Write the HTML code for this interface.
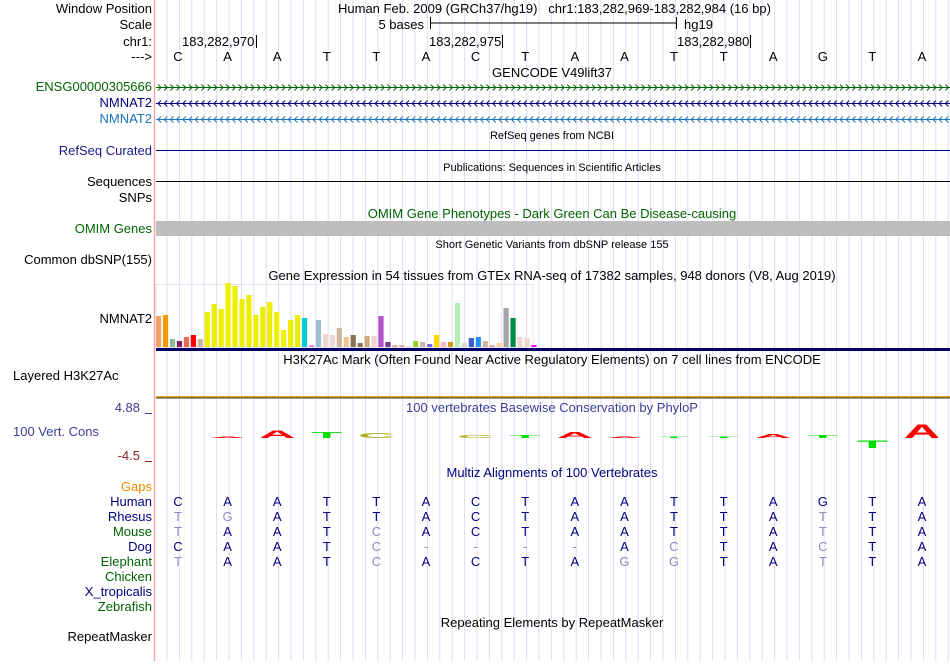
<!DOCTYPE html>
<html><head><meta charset="utf-8"><style>
body{margin:0;background:#fff;}
svg text{font-family:"Liberation Sans",Arial,sans-serif;}
</style></head><body>
<svg id="g" width="950" height="661" xmlns="http://www.w3.org/2000/svg" font-size="13">
<rect width="950" height="661" fill="#fff"/>
<g id="grid"></g>
<line x1="154.5" y1="0" x2="154.5" y2="661" stroke="#f4a8a8" stroke-width="1.5"/>

<g fill="#000">
<text x="152" y="13" text-anchor="end">Window Position</text>
<text x="338" y="13" xml:space="preserve">Human Feb. 2009 (GRCh37/hg19)   chr1:183,282,969-183,282,984 (16 bp)</text>
<text x="152" y="29" text-anchor="end">Scale</text>
<text x="424" y="29" text-anchor="end">5 bases</text>
<line x1="430" y1="23" x2="677" y2="23" stroke="#000"/>
<line x1="430.5" y1="17" x2="430.5" y2="29" stroke="#000"/>
<line x1="676.5" y1="17" x2="676.5" y2="29" stroke="#000"/>
<text x="684" y="29">hg19</text>
<text x="152" y="46" text-anchor="end">chr1:</text>
<text x="182" y="46">183,282,970</text>
<line x1="256.5" y1="35" x2="256.5" y2="48" stroke="#000"/>
<text x="429" y="46">183,282,975</text>
<line x1="502.5" y1="35" x2="502.5" y2="48" stroke="#000"/>
<text x="677" y="46">183,282,980</text>
<line x1="750.5" y1="35" x2="750.5" y2="48" stroke="#000"/>
<text x="152" y="61" text-anchor="end">---&gt;</text>
<g id="bases"></g>
</g>

<text x="552" y="77" text-anchor="middle">GENCODE V49lift37</text>
<text x="152" y="91" text-anchor="end" fill="#006400">ENSG00000305666</text>
<text x="152" y="107" text-anchor="end" fill="#000080">NMNAT2</text>
<text x="152" y="123" text-anchor="end" fill="#1a74b8">NMNAT2</text>
<g id="genes"></g>

<text x="552" y="139" text-anchor="middle" font-size="11">RefSeq genes from NCBI</text>
<text x="152" y="155" text-anchor="end" fill="#1a1a8a">RefSeq Curated</text>
<line x1="156" y1="150.5" x2="950" y2="150.5" stroke="#000080"/>
<text x="552" y="171" text-anchor="middle" font-size="11">Publications: Sequences in Scientific Articles</text>
<text x="152" y="186" text-anchor="end">Sequences</text>
<line x1="156" y1="181.5" x2="950" y2="181.5" stroke="#000"/>
<text x="152" y="202" text-anchor="end">SNPs</text>
<text x="552" y="218" text-anchor="middle" fill="#006400">OMIM Gene Phenotypes - Dark Green Can Be Disease-causing</text>
<text x="152" y="233" text-anchor="end" fill="#006400">OMIM Genes</text>
<rect x="156" y="221" width="794" height="15" fill="#bebebe"/>
<text x="552" y="248" text-anchor="middle" font-size="11">Short Genetic Variants from dbSNP release 155</text>
<text x="152" y="264" text-anchor="end">Common dbSNP(155)</text>
<text x="552" y="280" text-anchor="middle">Gene Expression in 54 tissues from GTEx RNA-seq of 17382 samples, 948 donors (V8, Aug 2019)</text>
<text x="152" y="323" text-anchor="end">NMNAT2</text>
<rect x="156" y="284.5" width="377" height="63" fill="none" stroke="#e4e4f4"/>
<g id="gtex"></g>
<rect x="156" y="348" width="794" height="3" fill="#000066"/>
<text x="552" y="364" text-anchor="middle">H3K27Ac Mark (Often Found Near Active Regulatory Elements) on 7 cell lines from ENCODE</text>
<text x="13" y="380">Layered H3K27Ac</text>
<rect x="156" y="396" width="794" height="1.5" fill="#e6a020"/>
<rect x="156" y="397.5" width="794" height="1" fill="#333"/>

<text x="552" y="412" text-anchor="middle" fill="#3c3c96">100 vertebrates Basewise Conservation by PhyloP</text>
<text x="140" y="412" text-anchor="end" fill="#3c3c96">4.88</text>
<line x1="145" y1="413.5" x2="152" y2="413.5" stroke="#3c3c96"/>
<text x="13" y="436" fill="#3c3c96">100 Vert. Cons</text>
<text x="140" y="460" text-anchor="end" fill="#8b2020">-4.5</text>
<line x1="145" y1="461.5" x2="152" y2="461.5" stroke="#8b2020"/>
<g id="phylop"></g>

<text x="552" y="477" text-anchor="middle" fill="#000080">Multiz Alignments of 100 Vertebrates</text>
<text x="152" y="491" text-anchor="end" fill="#f08c00">Gaps</text>
<g id="multiz"></g>
<text x="552" y="627" text-anchor="middle">Repeating Elements by RepeatMasker</text>
<text x="152" y="641" text-anchor="end">RepeatMasker</text>
</svg>
<script>
const refSeq = ["C","A","A","T","T","A","C","T","A","A","T","T","A","G","T","A"];
const gtexValues = [31,32,8,6,10,12,8,35,43,38,64,61,48,52,32,40,45,35,17,27,32,29,2,27,13,12,19,10,12,4,11,11,31,5,2,2,1,6,5,3,12,5,5,44,4,9,10,6,2,4,39,29,10,9,2];
const gtexColors = ["#f4a460","#ee9a00","#8fbc8f","#8b1c62","#ee6a50","#ff0000","#cdb79e","#eeee00","#eeee00","#eeee00","#eeee00","#eeee00","#eeee00","#eeee00","#eeee00","#eeee00","#eeee00","#eeee00","#eeee00","#eeee00","#eeee00","#00cdcd","#ee82ee","#9ac0cd","#eed5d2","#eed5d2","#cdb79e","#eec591","#8b7355","#8b7355","#cdaa7d","#eed5d2","#b452cd","#7a378b","#cdb79e","#cdb79e","#eed5d2","#9acd32","#cdb79e","#7a67ee","#ffd700","#ffb6c1","#cd9b1d","#b4eeb4","#d9d9d9","#3a5fcd","#1e90ff","#cdb79e","#cdb79e","#ffd39b","#a6a6a6","#008b45","#eed5d2","#eed5d2","#ff00ff"];
const phylopValues = [0,0.2,1.6,1.2,1.0,0,0.6,0.6,1.2,0.2,0.2,0.2,0.8,0.6,-1.6,2.7];
const phylopLetters = ["C","A","A","T","C","A","C","T","A","A","T","T","A","T","T","A"];
const species = ["Human","Rhesus","Mouse","Dog","Elephant","Chicken","X_tropicalis","Zebrafish"];
const speciesColors = ["#000080","#000080","#006400","#000080","#006400","#006400","#000080","#006400"];
const alignRows = ["CAATTACTAATTAGTA","TGATTACTAATTATTA","TAATCACTAATTATTA","CAATC----ACTACTA","TAATCACTAGGTATTA","","",""];

const NS="http://www.w3.org/2000/svg";
const X0=153.2, BW=49.6;
const bx = i => X0 + BW*i + BW/2;
function mk(tag, parent, attrs){const e=document.createElementNS(NS,tag);for(const k in attrs)e.setAttribute(k,attrs[k]);parent.appendChild(e);return e;}

const grid=document.getElementById('grid');
for(let x=167;x<950;x+=12.4){
  const l=mk('line',grid,{x1:x,y1:0,x2:x,y2:661,stroke:'#dcdcf4','stroke-width':1});
  
  
}

const bases=document.getElementById('bases');
refSeq.forEach((b,i)=>{
  const t=mk('text',bases,{x:bx(i),y:61,'text-anchor':'middle'});t.textContent=b;
  
  
});

const genes=document.getElementById('genes');
[[87,'#006400',1],[103,'#000080',-1],[119,'#1a74b8',-1]].forEach(([y,c,dir])=>{
  const l=mk('line',genes,{x1:156,y1:y+.5,x2:950,y2:y+.5,stroke:c});
  
  
  let d='';
  for(let x=158;x<948;x+=6.2){ if(dir>0) d+=`M${x},${y-2.5}L${x+3},${y+.5}L${x},${y+3.5}`; else d+=`M${x+3},${y-2.5}L${x},${y+.5}L${x+3},${y+3.5}`;}
  const p=mk('path',genes,{d:d,stroke:c,fill:'none','stroke-width':1});
  
  
});

const gtex=document.getElementById('gtex');
const gy = v => 347 - v;
gtexValues.forEach((v,i)=>{
  const r=mk('rect',gtex,{x:156+i*6.95,y:gy(v),width:5.2,height:v,fill:gtexColors[i]||'#ccc'});
  
  
});

const ph=document.getElementById('phylop');
const py0=438, pscale=5.12;
const lc={A:'#ff0000',C:'#b0b020',G:'#b0b020',T:'#00dd00'};
phylopValues.forEach((v,i)=>{
  if(v===0) return;
  const h=Math.abs(v)*pscale, L=phylopLetters[i];
  const top = v>0 ? py0-h : py0+2;
  const t=mk('text',ph,{x:0,y:0,'text-anchor':'middle','font-weight':'bold','font-size':18,fill:lc[L],
    transform:`translate(${bx(i)},${top+h}) scale(2.8,${Math.max(h,1.5)/13})`});
  t.textContent=L;
  
  
});

const mz=document.getElementById('multiz');
species.forEach((s,r)=>{
  const y=506+r*15;
  const lb=mk('text',mz,{x:152,y:y,'text-anchor':'end',fill:speciesColors[r]});lb.textContent=s;
  
  
  const row=alignRows[r];
  for(let i=0;i<row.length;i++){
    const ch=row[i], match = ch===refSeq[i];
    const t=mk('text',mz,{x:bx(i),y:y,'text-anchor':'middle',fill: match?'#000080':'#8c8cbc'});
    t.textContent=ch;
    
    
  }
});
</script>
</body></html>
